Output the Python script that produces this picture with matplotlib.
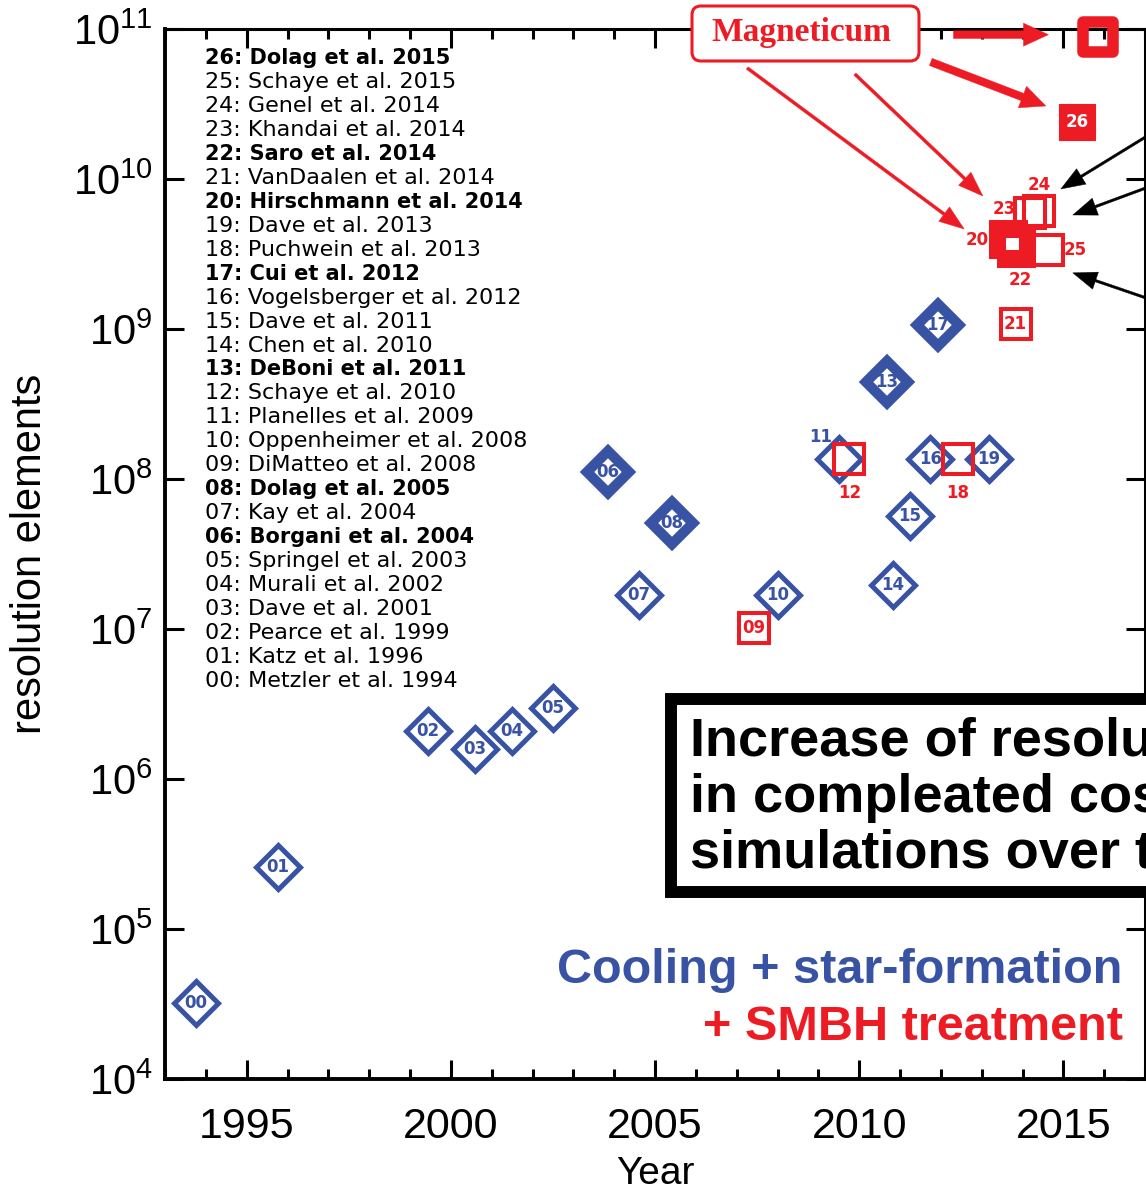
import matplotlib
matplotlib.use("Agg")
import matplotlib.pyplot as plt
from matplotlib.ticker import FixedLocator, MultipleLocator, NullLocator, FuncFormatter
from matplotlib.patches import FancyBboxPatch, Rectangle
from matplotlib.markers import MarkerStyle
from matplotlib.transforms import IdentityTransform, offset_copy
import math

W, H, DPI = 1146, 1192, 100
BLUE = "#3953a4"
RED = "#ed1c24"

plt.rcParams["font.family"] = ["Liberation Sans", "DejaVu Sans"]

# ---------------------------------------------------------------- data
# cooling + star formation runs (blue diamonds)
blue_ids = ["00", "01", "02", "03", "04", "05", "06", "07", "08",
            "10", "11", "13", "14", "15", "16", "17", "19"]
blue_year = [1993.76, 1995.77, 1999.43, 2000.58, 2001.50, 2002.50, 2003.84,
             2004.60, 2005.41, 2008.00, 2009.51, 2010.67, 2010.83, 2011.24,
             2011.74, 2011.92, 2013.18]
blue_res = [3.23e4, 2.60e5, 2.09e6, 1.58e6, 2.09e6, 2.99e6, 1.12e8,
            1.69e7, 5.07e7, 1.69e7, 1.35e8, 4.46e8, 1.96e7, 5.69e7,
            1.35e8, 1.06e9, 1.35e8]
blue_heavy = ["06", "08", "13", "17"]

# runs that also include SMBH treatment (red squares)
red_ids = ["09", "12", "18", "21", "23", "24", "20", "22", "25"]
red_year = [2007.42, 2009.76, 2012.42, 2013.83, 2014.18, 2014.40,
            2013.65, 2013.84, 2014.62]
red_res = [1.01e7, 1.35e8, 1.35e8, 1.08e9, 5.93e9, 6.12e9,
           3.98e9, 3.47e9, 3.37e9]
red_heavy = ["20", "22"]

# Magneticum runs
box0_year, box0_res = 2015.33, 2.40e10      # 26: Dolag et al. 2015
mag_year, mag_res = 2015.86, 8.89e10        # largest Magneticum box

# reference list
ref_ids = ["26", "25", "24", "23", "22", "21", "20", "19", "18", "17", "16",
           "15", "14", "13", "12", "11", "10", "09", "08", "07", "06", "05",
           "04", "03", "02", "01", "00"]
ref_names = ["Dolag et al. 2015", "Schaye et al. 2015", "Genel et al. 2014",
             "Khandai et al. 2014", "Saro et al. 2014", "VanDaalen et al. 2014",
             "Hirschmann et al. 2014", "Dave et al. 2013", "Puchwein et al. 2013",
             "Cui et al. 2012", "Vogelsberger et al. 2012", "Dave et al. 2011",
             "Chen et al. 2010", "DeBoni et al. 2011", "Schaye et al. 2010",
             "Planelles et al. 2009", "Oppenheimer et al. 2008",
             "DiMatteo et al. 2008", "Dolag et al. 2005", "Kay et al. 2004",
             "Borgani et al. 2004", "Springel et al. 2003", "Murali et al. 2002",
             "Dave et al. 2001", "Pearce et al. 1999", "Katz et al. 1996",
             "Metzler et al. 1994"]
ref_bold = ["26", "22", "20", "17", "13", "08", "06"]

x_major = [1995, 2000, 2005, 2010, 2015]
y_major = [1e4, 1e5, 1e6, 1e7, 1e8, 1e9, 1e10, 1e11]

# label offsets (pixels, right / down) for numbers placed beside markers
label_offsets = {"11": (-18, -22, "center"), "12": (0, 34, "center"),
                 "18": (0, 34, "center"), "20": (-19, 1, "right"),
                 "22": (4, 32, "center"), "23": (-14, -4, "right"),
                 "24": (0, -26, "center"), "25": (16, 0, "left")}

# ---------------------------------------------------------------- figure
fig = plt.figure(figsize=(W / DPI, H / DPI), dpi=DPI)
ax = fig.add_axes([165 / W, 113 / H, 980 / W, 1050 / H])
ax.set_yscale("log")
ax.set_xlim(1993, 2017)
ax.set_ylim(1e4, 1e11)

PT = 72.0 / DPI  # points per pixel


def px(x, y):
    """figure pixel position (from top-left) -> display coords"""
    return x, H - y


def number(x, y, text, dx=0, dy=0, ha="center", color=BLUE):
    ax.annotate(text, (x, y), xytext=(dx * PT, -dy * PT),
                textcoords="offset points", ha=ha, va="center",
                color=color, fontfamily="DejaVu Sans", fontweight="bold",
                fontsize=12, zorder=5, annotation_clip=False)


# blue diamonds
for i, yr, r in zip(blue_ids, blue_year, blue_res):
    heavy = i in blue_heavy
    ax.plot([yr], [r], ls="none", marker="D",
            ms=21.6 if heavy else 21.9, mew=7.4 if heavy else 3.6,
            mfc="none", mec=BLUE, zorder=3, clip_on=False)
    dx, dy, ha = label_offsets.get(i, (0, 0, "center"))
    number(yr, r, i, dx, dy, ha, BLUE)

# red squares
for i, yr, r in zip(red_ids, red_year, red_res):
    heavy = i in red_heavy
    ax.plot([yr], [r], ls="none", marker="s",
            ms=21.6, mew=6.5 if heavy else 2.9,
            mfc="none", mec=RED, zorder=3, clip_on=False)
    dx, dy, ha = label_offsets.get(i, (0, 0, "center"))
    number(yr, r, i, dx, dy, ha, RED)

ax.plot([box0_year], [box0_res], ls="none", marker="s", ms=26.5,
        mfc=RED, mec=RED, mew=0.8, zorder=3, clip_on=False)
number(box0_year, box0_res, "26", color="white")

ax.plot([mag_year], [mag_res], ls="none",
        marker=MarkerStyle("s", joinstyle="round"), ms=21.2, mew=8.3,
        mfc="none", mec=RED, zorder=6, clip_on=False)

# ---------------------------------------------------------------- axes style
for side in ("left", "bottom"):
    ax.spines[side].set_linewidth(2.8)
for side in ("top", "right"):
    ax.spines[side].set_linewidth(2.2)

ax.xaxis.set_major_locator(FixedLocator(x_major))
ax.xaxis.set_minor_locator(MultipleLocator(1))
ax.yaxis.set_major_locator(FixedLocator(y_major))
ax.yaxis.set_minor_locator(NullLocator())
ax.yaxis.set_major_formatter(
    FuncFormatter(lambda v, p: r"$\mathregular{10^{%d}}$" % round(math.log10(v))))
ax.tick_params(which="both", direction="in", top=True, right=True, width=2.2)
ax.tick_params(which="major", length=13.5)
ax.tick_params(which="minor", length=7)
ax.tick_params(axis="x", which="major", labelsize=31, pad=20)
ax.tick_params(axis="y", which="major", labelsize=30, pad=9)

ax.set_xlabel("Year", fontsize=28)
ax.xaxis.set_label_coords(0.5, -0.073)
ax.set_ylabel("resolution elements", fontsize=30)
ax.yaxis.set_label_coords(-0.117, 0.5)

# ---------------------------------------------------------------- reference list
for k, (i, name) in enumerate(zip(ref_ids, ref_names)):
    bold = i in ref_bold
    fig.text(*px(205, 58 + k * 23.96), f"{i}: {name}",
             transform=IdentityTransform(), ha="left", va="center",
             fontfamily="DejaVu Sans", fontweight="bold" if bold else "normal",
             fontsize=15 if bold else 16, color="black", zorder=4)

# ---------------------------------------------------------------- arrows


def arrow(x, y, tail, tip, color, tail_w, head_w, head_l):
    tip_tr = offset_copy(ax.transData, fig=fig, x=tip[0], y=-tip[1], units="dots")
    tail_tr = offset_copy(ax.transData, fig=fig, x=tail[0], y=-tail[1], units="dots")
    style = (f"simple,head_length={head_l * PT:.2f},head_width={head_w * PT:.2f},"
             f"tail_width={tail_w * PT:.2f}")
    ax.annotate("", xy=(x, y), xycoords=tip_tr, xytext=(x, y), textcoords=tail_tr,
                arrowprops=dict(arrowstyle=style, mutation_scale=1, fc=color,
                                ec=color, lw=0.3, shrinkA=0, shrinkB=0),
                annotation_clip=False, zorder=7)


x20, y20 = red_year[red_ids.index("20")], red_res[red_ids.index("20")]
x23, y23 = red_year[red_ids.index("23")], red_res[red_ids.index("23")]
x24, y24 = red_year[red_ids.index("24")], red_res[red_ids.index("24")]
x25, y25 = red_year[red_ids.index("25")], red_res[red_ids.index("25")]

arrow(mag_year, mag_res, (-145, -2), (-50, -2), RED, 7.7, 23, 25)
arrow(box0_year, box0_res, (-146, -60), (-31, -16), RED, 7.7, 23, 25)
arrow(x20, y20, (-261, -171), (-44, -10), RED, 3, 18, 25)
arrow(x23, y23, (-175, -139), (-47, -17), RED, 3, 18, 25)
arrow(x24, y24, (180, -119), (22, -22), "black", 2.5, 18, 24)
arrow(x24, y24, (180, -50), (34, 4), "black", 2.5, 18, 24)
arrow(x25, y25, (171, 73), (25, 23), "black", 2.5, 18, 24)

# ---------------------------------------------------------------- annotations
mag_box = FancyBboxPatch(px(692, 61), 227, 55,
                         boxstyle="round,pad=0,rounding_size=9",
                         transform=IdentityTransform(), fc="white", ec=RED,
                         lw=2.2, zorder=8)
fig.add_artist(mag_box)
fig.text(*px(801, 33), "Magneticum", transform=IdentityTransform(),
         ha="center", va="center", fontfamily="Liberation Serif",
         fontweight="bold", fontsize=24, color=RED, zorder=9)

frame = Rectangle(px(671, 892), 700, 193, transform=IdentityTransform(),
                  fc="white", ec="black", lw=8.6, zorder=8)
fig.add_artist(frame)
for line, base in zip(["Increase of resolution", "in compleated cosmological",
                       "simulations over time"], [755, 812, 867]):
    fig.text(*px(690, base), line, transform=IdentityTransform(),
             ha="left", va="baseline", fontweight="bold", fontsize=39,
             color="black", zorder=9)

fig.text(*px(1122, 983), "Cooling + star-formation", transform=IdentityTransform(),
         ha="right", va="baseline", fontweight="bold", fontsize=35,
         color=BLUE, zorder=9)
fig.text(*px(1123, 1040), "+ SMBH treatment", transform=IdentityTransform(),
         ha="right", va="baseline", fontweight="bold", fontsize=35,
         color=RED, zorder=9)

fig.savefig("out.png", dpi=DPI)
